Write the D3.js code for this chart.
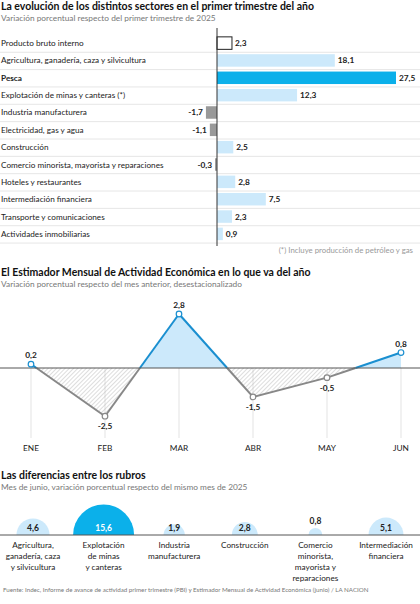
<!DOCTYPE html><html><head><meta charset="utf-8"><script src="https://cdn.jsdelivr.net/npm/d3@7"></script>
<style>body{margin:0;background:#fff}text{font-family:Lato,sans-serif}</style></head><body><svg id="c" width="420" height="604"></svg>
<script>
const sectors=["Producto bruto interno","Agricultura, ganadería, caza y silvicultura","Pesca","Explotación de minas y canteras (*)","Industria manufacturera","Electricidad, gas y agua","Construcción","Comercio minorista, mayorista y reparaciones","Hoteles y restaurantes","Intermediación financiera","Transporte y comunicaciones","Actividades inmobiliarias"];
const sectorVals=[2.3,18.1,27.5,12.3,-1.7,-1.1,2.5,-0.3,2.8,7.5,2.3,0.9];
const months=["ENE","FEB","MAR","ABR","MAY","JUN"];
const emaeVals=[0.2,-2.5,2.8,-1.5,-0.5,0.8];
const rubros=[["Agricultura,","ganadería, caza","y silvicultura"],["Explotación","de minas","y canteras"],["Industria","manufacturera"],["Construcción"],["Comercio","minorista,","mayorista y","reparaciones"],["Intermediación","financiera"]];
const rubroVals=[4.6,15.6,1.9,2.8,0.8,5.1];
const fmt=v=>String(v).replace(".",",");
const svg=d3.select("#c");
function title(t,s,y){svg.append("text").attr("x",1).attr("y",y).attr("font-size",10.5).attr("font-weight","bold").attr("fill","#111").text(t);
svg.append("text").attr("x",1).attr("y",y+11).attr("font-size",8.3).attr("fill","#777").text(s);}
title("La evolución de los distintos sectores en el primer trimestre del año","Variación porcentual respecto del primer trimestre de 2025",10);
const x=d3.scaleLinear().domain([0,27.5]).range([217,396]);
const y=d3.scaleBand().domain(sectors).range([32,245]).padding(0.28);
const step=y.step();
sectors.forEach((s,i)=>{const yy=y(s);
 svg.append("line").attr("x1",0).attr("x2",420).attr("y1",yy+y.bandwidth()+step*0.14+0.5).attr("y2",yy+y.bandwidth()+step*0.14+0.5).attr("stroke","#e6e6e6");
 svg.append("text").attr("x",1).attr("y",yy+y.bandwidth()/2+3).attr("font-size",8.2).attr("font-weight",i==2?"bold":"normal").attr("fill","#222").text(s);
 const v=sectorVals[i];
 svg.append("rect").attr("x",Math.min(x(v),x(0))).attr("width",Math.abs(x(v)-x(0))).attr("y",yy).attr("height",y.bandwidth())
  .attr("fill",i==0?"#fff":i==2?"#0bb0ea":v<0?"#999":"#cce9fb").attr("stroke",i==0?"#222":"none");
 svg.append("text").attr("x",v<0?x(v)-3:x(v)+3).attr("y",yy+y.bandwidth()/2+3).attr("text-anchor",v<0?"end":"start").attr("font-size",8.3).attr("font-weight","bold").attr("fill","#222").text(fmt(v));
});
svg.append("line").attr("x1",x(0)).attr("x2",x(0)).attr("y1",28).attr("y2",246).attr("stroke","#333");
svg.append("text").attr("x",413).attr("y",253).attr("text-anchor","end").attr("font-size",7.8).attr("fill","#999").text("(*) Incluye producción de petróleo y gas");
title("El Estimador Mensual de Actividad Económica en lo que va del año","Variación porcentual respecto del mes anterior, desestacionalizado",276);
const lx=d3.scalePoint().domain(months).range([31,401]);
const ly=d3.scaleLinear().domain([0,2.8]).range([368,314]);
const defs=svg.append("defs");
const pat=defs.append("pattern").attr("id","h").attr("width",3).attr("height",3).attr("patternUnits","userSpaceOnUse").attr("patternTransform","rotate(45)");
pat.append("line").attr("x1",0).attr("y1",0).attr("x2",0).attr("y2",3).attr("stroke","#aaa").attr("stroke-width",0.8);
months.forEach(m=>{svg.append("line").attr("x1",lx(m)).attr("x2",lx(m)).attr("y1",368).attr("y2",438).attr("stroke","#e3e3e3");
 svg.append("text").attr("x",lx(m)).attr("y",451).attr("text-anchor","middle").attr("font-size",8.3).attr("fill","#222").text(m);});
const pts=months.map((m,i)=>[lx(m),ly(emaeVals[i]),emaeVals[i]]);
for(let i=0;i<pts.length-1;i++){const a=pts[i],b=pts[i+1];let segs=[];
 if(a[2]*b[2]<0){const t=a[2]/(a[2]-b[2]);const z=[a[0]+t*(b[0]-a[0]),ly(0),0];segs=[[a,z,a[2]],[z,b,b[2]]];}else segs=[[a,b,a[2]+b[2]]];
 segs.forEach(([p,q,s])=>{const pos=s>0;
  svg.append("path").attr("d",`M${p[0]},${ly(0)}L${p[0]},${p[1]}L${q[0]},${q[1]}L${q[0]},${ly(0)}Z`).attr("fill",pos?"#cce9fb":"url(#h)");
  svg.append("line").attr("x1",p[0]).attr("y1",p[1]).attr("x2",q[0]).attr("y2",q[1]).attr("stroke",pos?"#1a8fd0":"#888").attr("stroke-width",2);});}
svg.append("line").attr("x1",0).attr("x2",420).attr("y1",ly(0)).attr("y2",ly(0)).attr("stroke","#555");
pts.forEach(p=>{svg.append("circle").attr("cx",p[0]).attr("cy",p[1]).attr("r",2.8).attr("fill","#fff").attr("stroke",p[2]>0?"#1a8fd0":"#888").attr("stroke-width",1.2);
 svg.append("text").attr("x",p[0]).attr("y",p[2]>0?p[1]-6:p[1]+13).attr("text-anchor","middle").attr("font-size",8.3).attr("font-weight","bold").attr("fill","#222").text(fmt(p[2]));});
title("Las diferencias entre los rubros","Mes de junio, variación porcentual respecto del mismo mes de 2025",479);
const bx=d3.scalePoint().domain(d3.range(6)).range([33,386]);
const r=d3.scaleSqrt().domain([0,15.6]).range([0,30.5]);
const base=535;
rubroVals.forEach((v,i)=>{const cx=bx(i),rr=r(v);
 svg.append("path").attr("d",d3.arc()({innerRadius:0,outerRadius:rr,startAngle:-Math.PI/2,endAngle:Math.PI/2})).attr("transform",`translate(${cx},${base})`).attr("fill",i==1?"#0bb0ea":"#cce9fb");
 const small=rr<9;
 svg.append("text").attr("x",cx).attr("y",small?base-11:base-4).attr("text-anchor","middle").attr("font-size",8.5).attr("font-weight","bold").attr("fill",i==1?"#fff":"#222").text(fmt(v));
 rubros[i].forEach((l,j)=>svg.append("text").attr("x",cx).attr("y",base+13+j*11).attr("text-anchor","middle").attr("font-size",8.2).attr("fill","#222").text(l));
});
svg.append("line").attr("x1",0).attr("x2",420).attr("y1",base).attr("y2",base).attr("stroke","#555");
svg.append("text").attr("x",3).attr("y",592).attr("font-size",6.2).attr("fill","#777").text("Fuente: Indec, Informe de avance de actividad primer trimestre (PBI) y Estimador Mensual de Actividad Económica (junio) / LA NACION");
</script></body></html>
